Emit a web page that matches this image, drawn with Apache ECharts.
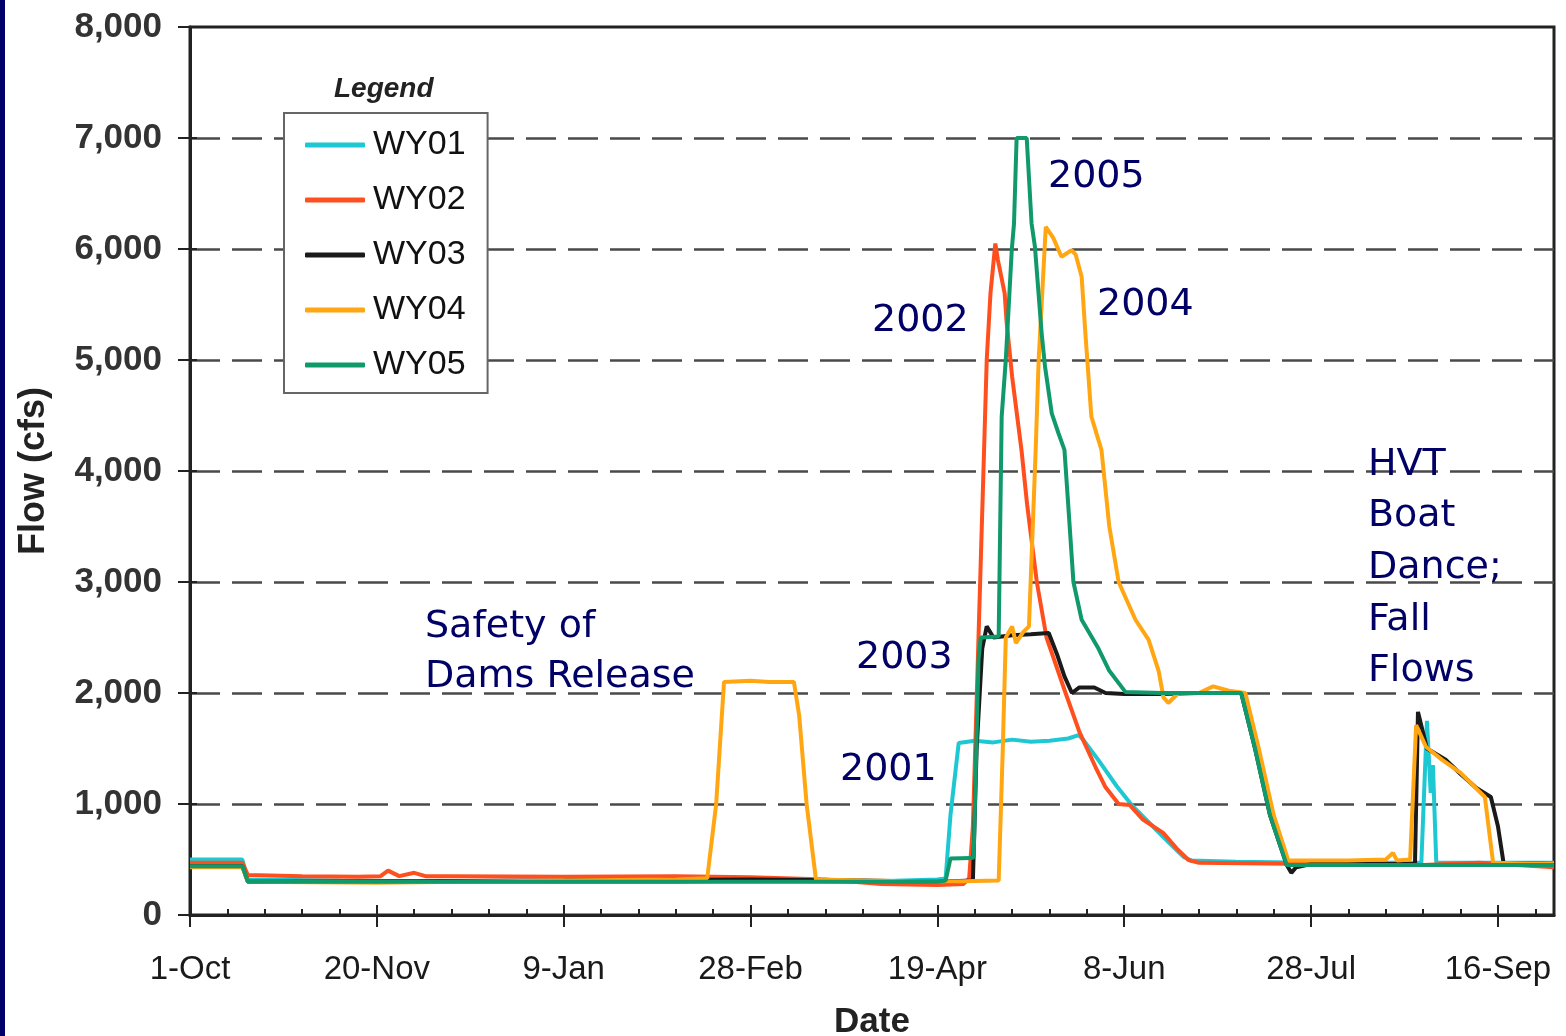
<!DOCTYPE html>
<html>
<head>
<meta charset="utf-8">
<script src="https://cdn.jsdelivr.net/npm/echarts@6/dist/echarts.min.js"></script>
<style>
  html, body { margin: 0; padding: 0; background: #fff; }
  #chart { width: 1566px; height: 1036px; }
</style>
</head>
<body>
<div id="chart"></div>
<script>
// day of water year (0 = 1-Oct) -> tick label
const tickDays = [0, 50, 100, 150, 200, 250, 300, 350];
const tickLabels = ["1-Oct", "20-Nov", "9-Jan", "28-Feb", "19-Apr", "8-Jun", "28-Jul", "16-Sep"];
const minorDays = [0, 10, 20, 30, 40, 50, 60, 70, 80, 90, 100, 110, 120, 130, 140, 150, 160, 170, 180,
  190, 200, 210, 220, 230, 240, 250, 260, 270, 280, 290, 300, 310, 320, 330, 340, 350, 360];

const seriesNames = ["WY01", "WY02", "WY03", "WY04", "WY05"];

// [day, flow cfs]
const wy01 = [[0, 500], [14, 500], [15.5, 320], [40, 310], [60, 305], [100, 300], [130, 300], [150, 310],
  [180, 300], [200, 320], [202.2, 330], [203.5, 900], [205.7, 1550], [210, 1570], [215, 1555], [220, 1580],
  [225, 1560], [230, 1570], [235, 1590], [237.8, 1620], [239, 1580], [243, 1400], [248, 1160], [252, 990],
  [257, 820], [262, 650], [266, 520], [268, 490], [280, 480], [300, 470], [329.5, 470], [331, 1750],
  [332, 1100], [332.6, 1350], [333.5, 470], [350, 470], [365, 470]];

const wy02 = [[0, 470], [14, 470], [15.5, 360], [30, 350], [45, 345], [51, 350], [53, 400], [56, 350],
  [60, 380], [63, 350], [70, 350], [100, 345], [130, 350], [150, 340], [170, 320], [185, 280], [200, 270],
  [207, 280], [208.5, 330], [209.5, 800], [211, 2500], [212.5, 4200], [213.2, 5000], [214.2, 5600],
  [215.5, 6050], [216.2, 5900], [218, 5600], [218.5, 5350], [220, 4850], [222.5, 4190], [224, 3700],
  [226.6, 3000], [229.2, 2500], [234.3, 2000], [238, 1650], [242.3, 1333], [245, 1150], [248.5, 1000],
  [251.5, 990], [255, 860], [260.4, 740], [264, 600], [267.2, 495], [270, 470], [300, 460], [330, 450],
  [345, 470], [365, 430]];

const wy03 = [[0, 440], [14, 440], [15.5, 300], [60, 305], [100, 310], [150, 320], [180, 310], [200, 300],
  [209.5, 310], [210.5, 1500], [212, 2400], [213.2, 2600], [215, 2500], [220, 2520], [225, 2530],
  [229.8, 2540], [232, 2350], [234, 2150], [236, 2000], [238, 2050], [242, 2050], [245, 2000], [250, 1990],
  [260, 1990], [270, 2000], [281.3, 2000], [285, 1500], [289, 900], [293.5, 450], [294.7, 380], [296, 430],
  [300, 460], [327.8, 460], [328.6, 1830], [331, 1500], [336, 1400], [340, 1270], [344, 1150],
  [348.1, 1063], [350, 800], [351.5, 470], [365, 460]];

const wy04 = [[0, 430], [14, 430], [15.5, 300], [50, 290], [100, 310], [130, 320], [138.4, 330],
  [140.8, 1000], [142.9, 2100], [150, 2110], [155, 2100], [161.6, 2100], [163, 1800], [165, 1000],
  [167.5, 320], [180, 310], [200, 300], [216.4, 310], [217.5, 1500], [218.3, 2500], [220, 2600],
  [221, 2450], [223, 2550], [224.5, 2600], [226.3, 4190], [227.1, 5000], [229, 6200], [231, 6100],
  [233.2, 5930], [235.9, 5990], [237, 5950], [238.6, 5750], [239.6, 5240], [241.2, 4490], [243.9, 4190],
  [246, 3500], [248.5, 3000], [253, 2660], [256.5, 2480], [259.2, 2200], [260.5, 1960], [261.8, 1910],
  [264.5, 2000], [270, 2000], [273.8, 2060], [278, 2020], [282.4, 2000], [286, 1500], [290, 900],
  [293.9, 490], [310, 490], [320, 500], [321.9, 560], [323, 490], [326.5, 500], [328.1, 1710],
  [330.8, 1513], [335, 1400], [340, 1280], [346.5, 1063], [348.7, 470], [365, 460]];

const wy05 = [[0, 440], [14, 440], [15.5, 300], [100, 300], [150, 300], [200, 300], [202.2, 310],
  [203.5, 510], [209, 513], [209.7, 520], [211, 2300], [211.6, 2500], [216.4, 2510], [217.2, 4490],
  [218.3, 5000], [219.9, 5990], [220.5, 6230], [221.2, 7000], [223.9, 7000], [225.2, 6230], [226.1, 6020],
  [227.9, 5240], [228.8, 4940], [230.6, 4520], [232.4, 4340], [234, 4190], [235, 3700], [236.4, 3000],
  [238.6, 2660], [243.1, 2400], [246, 2200], [250.3, 2010], [260, 2000], [281.3, 2000], [285, 1500],
  [289, 900], [293.5, 450], [365, 450]];

const seriesData = [wy01, wy02, wy03, wy04, wy05];
const seriesColors = ["#1ec8d2", "#ff4f1e", "#1a1a1a", "#ffa612", "#10996a"];

const chart = echarts.init(document.getElementById("chart"));

const annoFont = "'DejaVu Sans', sans-serif";
const annoColor = "#000066";
const annot = (text, x, y) => ({
  type: "text", left: x, top: y, z: 100,
  style: { text: text, fill: annoColor, font: "38px " + annoFont }
});

const option = {
  animation: false,
  backgroundColor: "#fff",
  textStyle: { fontFamily: "'Liberation Sans', Arial, sans-serif" },
  grid: {
    left: 190, right: 12, top: 27, bottom: 121,
    outerBoundsMode: "none",
    show: true, borderColor: "#222", borderWidth: 3, backgroundColor: "transparent"
  },
  legend: {
    data: seriesNames,
    orient: "vertical",
    left: 284, top: 113,
    padding: [15, 22, 11, 21],
    icon: "roundRect",
    itemWidth: 60, itemHeight: 5, itemGap: 21,
    backgroundColor: "#fff",
    borderColor: "#666", borderWidth: 2,
    textStyle: { fontSize: 34, color: "#111", padding: [0, 0, 0, 3] },
    z: 50
  },
  xAxis: [
    {
      type: "value", min: 0, max: 365, interval: 50,
      name: "Date", nameLocation: "middle", nameGap: 90,
      nameTextStyle: { fontSize: 35, fontWeight: "bold", color: "#222" },
      axisLine: { show: true, lineStyle: { color: "#222", width: 3 } },
      axisTick: { show: true, inside: false, length: 12, customValues: tickDays, lineStyle: { color: "#222", width: 2 } },
      axisLabel: {
        customValues: tickDays, margin: 38, fontSize: 33, color: "#1a1a1a",
        formatter: v => tickLabels[tickDays.indexOf(v)] || ""
      },
      splitLine: { show: false }
    },
    {
      type: "value", min: 0, max: 365, position: "bottom",
      axisLine: { show: false },
      axisTick: { show: true, inside: true, length: 6, customValues: minorDays, lineStyle: { color: "#222", width: 2 } },
      axisLabel: { show: false },
      splitLine: { show: false }
    },
    {
      type: "value", min: 0, max: 365, position: "bottom",
      axisLine: { show: false },
      axisTick: { show: true, inside: true, length: 10, customValues: tickDays, lineStyle: { color: "#222", width: 2 } },
      axisLabel: { show: false },
      splitLine: { show: false }
    }
  ],
  yAxis: [
    {
      type: "value", min: 0, max: 8000, interval: 1000,
      name: "Flow (cfs)", nameLocation: "middle", nameGap: 138,
      nameTextStyle: { fontSize: 36, fontWeight: "bold", color: "#222" },
      axisLine: { show: true, lineStyle: { color: "#222", width: 3 } },
      axisTick: { show: true, inside: false, length: 12, lineStyle: { color: "#222", width: 2 } },
      axisLabel: {
        margin: 28, fontSize: 35, fontWeight: "bold", color: "#333",
        formatter: v => v.toLocaleString("en-US")
      },
      splitLine: {
        show: true, showMinLine: false, showMaxLine: false,
        lineStyle: { color: "#4a4a4a", width: 2.5, type: [30, 12] }
      }
    },
    {
      type: "value", min: 0, max: 8000, interval: 1000, position: "left",
      axisLine: { show: false },
      axisTick: { show: true, inside: true, length: 7, lineStyle: { color: "#222", width: 2 } },
      axisLabel: { show: false },
      splitLine: { show: false }
    }
  ],
  series: seriesNames.map((name, i) => ({
    name: name,
    type: "line",
    xAxisIndex: 0, yAxisIndex: 0,
    data: seriesData[i],
    symbol: "none",
    color: seriesColors[i],
    lineStyle: { width: 4, color: seriesColors[i] },
    z: 10 + i
  })),
  graphic: [
    { type: "rect", left: 0, top: 0, shape: { width: 5, height: 1036 }, style: { fill: "#000066" } },
    {
      type: "text", left: 334, top: 75, z: 100,
      style: { text: "Legend", fill: "#222", font: "italic bold 28px 'Liberation Sans', Arial, sans-serif" }
    },
    annot("Safety of", 425, 608),
    annot("Dams Release", 425, 658),
    annot("2005", 1048, 158),
    annot("2002", 872, 302),
    annot("2004", 1097, 286),
    annot("2003", 856, 639),
    annot("2001", 840, 751),
    annot("HVT", 1368, 446),
    annot("Boat", 1368, 497),
    annot("Dance;", 1368, 549),
    annot("Fall", 1368, 601),
    annot("Flows", 1368, 652)
  ]
};

chart.setOption(option);
</script>
</body>
</html>
